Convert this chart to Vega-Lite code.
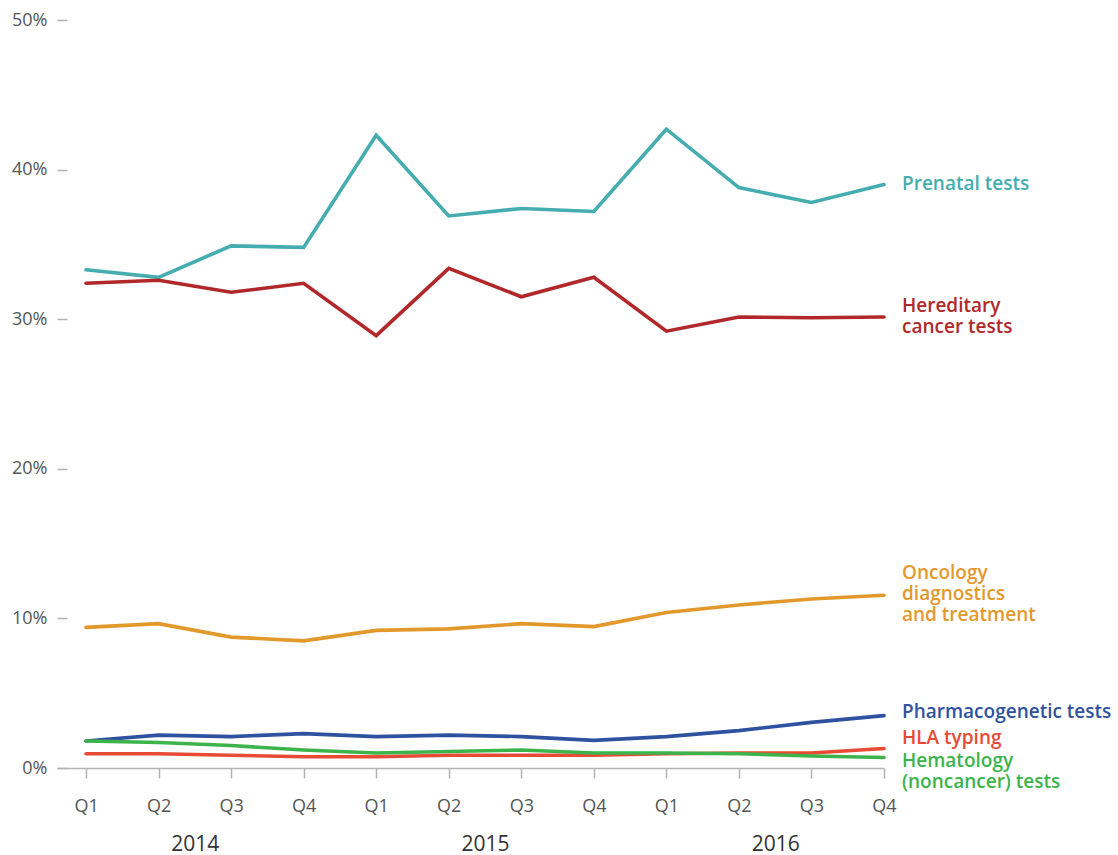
{
  "$schema": "https://vega.github.io/schema/vega-lite/v6.json",
  "width": 827,
  "height": 748,
  "autosize": {"type": "none"},
  "padding": {"left": 57, "top": 20, "right": 234, "bottom": 87},
  "background": "white",
  "config": {"view": {"stroke": null}, "font": "Open Sans"},
  "datasets": {
    "shares": [
      {"series": "Prenatal", "t": 0, "value": 33.3}, {"series": "Prenatal", "t": 1, "value": 32.8}, {"series": "Prenatal", "t": 2, "value": 34.9}, {"series": "Prenatal", "t": 3, "value": 34.8},
      {"series": "Prenatal", "t": 4, "value": 42.3}, {"series": "Prenatal", "t": 5, "value": 36.9}, {"series": "Prenatal", "t": 6, "value": 37.4}, {"series": "Prenatal", "t": 7, "value": 37.2},
      {"series": "Prenatal", "t": 8, "value": 42.7}, {"series": "Prenatal", "t": 9, "value": 38.8}, {"series": "Prenatal", "t": 10, "value": 37.8}, {"series": "Prenatal", "t": 11, "value": 39.0},
      {"series": "Hereditary", "t": 0, "value": 32.4}, {"series": "Hereditary", "t": 1, "value": 32.6}, {"series": "Hereditary", "t": 2, "value": 31.8}, {"series": "Hereditary", "t": 3, "value": 32.4},
      {"series": "Hereditary", "t": 4, "value": 28.9}, {"series": "Hereditary", "t": 5, "value": 33.4}, {"series": "Hereditary", "t": 6, "value": 31.5}, {"series": "Hereditary", "t": 7, "value": 32.8},
      {"series": "Hereditary", "t": 8, "value": 29.2}, {"series": "Hereditary", "t": 9, "value": 30.15}, {"series": "Hereditary", "t": 10, "value": 30.1}, {"series": "Hereditary", "t": 11, "value": 30.15},
      {"series": "Oncology", "t": 0, "value": 9.4}, {"series": "Oncology", "t": 1, "value": 9.65}, {"series": "Oncology", "t": 2, "value": 8.75}, {"series": "Oncology", "t": 3, "value": 8.5},
      {"series": "Oncology", "t": 4, "value": 9.2}, {"series": "Oncology", "t": 5, "value": 9.3}, {"series": "Oncology", "t": 6, "value": 9.65}, {"series": "Oncology", "t": 7, "value": 9.45},
      {"series": "Oncology", "t": 8, "value": 10.4}, {"series": "Oncology", "t": 9, "value": 10.9}, {"series": "Oncology", "t": 10, "value": 11.3}, {"series": "Oncology", "t": 11, "value": 11.55},
      {"series": "Pharmacogenetic", "t": 0, "value": 1.8}, {"series": "Pharmacogenetic", "t": 1, "value": 2.2}, {"series": "Pharmacogenetic", "t": 2, "value": 2.1}, {"series": "Pharmacogenetic", "t": 3, "value": 2.3},
      {"series": "Pharmacogenetic", "t": 4, "value": 2.1}, {"series": "Pharmacogenetic", "t": 5, "value": 2.2}, {"series": "Pharmacogenetic", "t": 6, "value": 2.1}, {"series": "Pharmacogenetic", "t": 7, "value": 1.85},
      {"series": "Pharmacogenetic", "t": 8, "value": 2.1}, {"series": "Pharmacogenetic", "t": 9, "value": 2.5}, {"series": "Pharmacogenetic", "t": 10, "value": 3.05}, {"series": "Pharmacogenetic", "t": 11, "value": 3.5},
      {"series": "HLA", "t": 0, "value": 0.95}, {"series": "HLA", "t": 1, "value": 0.95}, {"series": "HLA", "t": 2, "value": 0.85}, {"series": "HLA", "t": 3, "value": 0.75},
      {"series": "HLA", "t": 4, "value": 0.75}, {"series": "HLA", "t": 5, "value": 0.85}, {"series": "HLA", "t": 6, "value": 0.85}, {"series": "HLA", "t": 7, "value": 0.85},
      {"series": "HLA", "t": 8, "value": 0.95}, {"series": "HLA", "t": 9, "value": 1.0}, {"series": "HLA", "t": 10, "value": 1.0}, {"series": "HLA", "t": 11, "value": 1.3},
      {"series": "Hematology", "t": 0, "value": 1.8}, {"series": "Hematology", "t": 1, "value": 1.7}, {"series": "Hematology", "t": 2, "value": 1.5}, {"series": "Hematology", "t": 3, "value": 1.2},
      {"series": "Hematology", "t": 4, "value": 1.0}, {"series": "Hematology", "t": 5, "value": 1.1}, {"series": "Hematology", "t": 6, "value": 1.2}, {"series": "Hematology", "t": 7, "value": 1.0},
      {"series": "Hematology", "t": 8, "value": 1.0}, {"series": "Hematology", "t": 9, "value": 0.95}, {"series": "Hematology", "t": 10, "value": 0.8}, {"series": "Hematology", "t": 11, "value": 0.7}
    ],
    "labels": [
      {"series": "Prenatal", "label": "Prenatal tests"},
      {"series": "Hereditary", "label": "Hereditary\ncancer tests"},
      {"series": "Oncology", "label": "Oncology\ndiagnostics\nand treatment"},
      {"series": "Pharmacogenetic", "label": "Pharmacogenetic tests"},
      {"series": "HLA", "label": "HLA typing"},
      {"series": "Hematology", "label": "Hematology\n(noncancer) tests"}
    ]
  },
  "data": {"name": "shares"},
  "encoding": {
    "y": {
      "field": "value", "type": "quantitative",
      "scale": {"domain": [0, 50], "nice": false},
      "axis": {
        "title": null, "values": [0, 10, 20, 30, 40, 50], "labelExpr": "datum.value + '%'",
        "domain": false, "grid": false, "offset": -10, "tickSize": 10, "tickColor": "#b3b3b3", "tickWidth": 1.5,
        "labelPadding": 10, "labelFontSize": 18, "labelColor": "#555555", "labelOverlap": false, "labelFlush": false
      }
    },
    "color": {
      "field": "series", "type": "nominal", "legend": null,
      "scale": {
        "domain": ["Prenatal", "Hereditary", "Oncology", "Pharmacogenetic", "HLA", "Hematology"],
        "range": ["#45adb0", "#b0282a", "#e3982b", "#2f52a0", "#e84a36", "#3cb44b"]
      }
    }
  },
  "layer": [
    {
      "mark": {"type": "line", "strokeWidth": 3.6, "strokeJoin": "miter", "strokeCap": "round"},
      "encoding": {
        "x": {
          "field": "t", "type": "quantitative",
          "scale": {"domain": [-0.4, 11], "nice": false, "zero": false},
          "axis": {
            "title": null, "orient": "bottom", "values": [0, 1, 2, 3, 4, 5, 6, 7, 8, 9, 10, 11],
            "labelExpr": "['Q1','Q2','Q3','Q4'][datum.value % 4]",
            "grid": false, "domainColor": "#b3b3b3", "domainWidth": 1.5, "tickColor": "#b3b3b3", "tickWidth": 1.5, "tickSize": 10,
            "labelPadding": 19, "labelFontSize": 18, "labelColor": "#555555", "labelFlush": false, "labelOverlap": false
          }
        }
      }
    },
    {
      "transform": [
        {"filter": "datum.t == 11 && datum.series == 'Prenatal'"},
        {"lookup": "series", "from": {"data": {"name": "labels"}, "key": "series", "fields": ["label"]}}
      ],
      "mark": {"type": "text", "align": "left", "baseline": "middle", "dx": 18, "dy": -1, "fontSize": 19, "fontWeight": 600, "lineBreak": "\n", "lineHeight": 21},
      "encoding": {
        "x": {
          "field": "t", "type": "quantitative",
          "axis": {
            "title": null, "orient": "bottom", "values": [1.5, 5.5, 9.5],
            "labelExpr": "datum.value < 3 ? '2014' : datum.value < 7 ? '2015' : '2016'",
            "grid": false, "domain": false, "ticks": false, "labelPadding": 76, "labelBaseline": "middle",
            "labelFontSize": 21, "labelColor": "#333333", "labelFontWeight": "normal", "labelFlush": false, "labelOverlap": false
          }
        },
        "text": {"field": "label", "type": "nominal"}
      }
    },
    {
      "transform": [
        {"filter": "datum.t == 11 && (datum.series == 'Hereditary' || datum.series == 'HLA')"},
        {"lookup": "series", "from": {"data": {"name": "labels"}, "key": "series", "fields": ["label"]}}
      ],
      "mark": {"type": "text", "align": "left", "baseline": "middle", "dx": 18, "dy": -11, "fontSize": 19, "fontWeight": 600, "lineBreak": "\n", "lineHeight": 21},
      "encoding": {
        "x": {"field": "t", "type": "quantitative", "axis": null},
        "text": {"field": "label", "type": "nominal"}
      }
    },
    {
      "transform": [
        {"filter": "datum.t == 11 && datum.series == 'Oncology'"},
        {"lookup": "series", "from": {"data": {"name": "labels"}, "key": "series", "fields": ["label"]}}
      ],
      "mark": {"type": "text", "align": "left", "baseline": "middle", "dx": 18, "dy": -22, "fontSize": 19, "fontWeight": 600, "lineBreak": "\n", "lineHeight": 21},
      "encoding": {
        "x": {"field": "t", "type": "quantitative", "axis": null},
        "text": {"field": "label", "type": "nominal"}
      }
    },
    {
      "transform": [
        {"filter": "datum.t == 11 && datum.series == 'Pharmacogenetic'"},
        {"lookup": "series", "from": {"data": {"name": "labels"}, "key": "series", "fields": ["label"]}}
      ],
      "mark": {"type": "text", "align": "left", "baseline": "middle", "dx": 18, "dy": -4, "fontSize": 19, "fontWeight": 600, "lineBreak": "\n", "lineHeight": 21},
      "encoding": {
        "x": {"field": "t", "type": "quantitative", "axis": null},
        "text": {"field": "label", "type": "nominal"}
      }
    },
    {
      "transform": [
        {"filter": "datum.t == 11 && datum.series == 'Hematology'"},
        {"lookup": "series", "from": {"data": {"name": "labels"}, "key": "series", "fields": ["label"]}}
      ],
      "mark": {"type": "text", "align": "left", "baseline": "middle", "dx": 18, "dy": 3, "fontSize": 19, "fontWeight": 600, "lineBreak": "\n", "lineHeight": 21},
      "encoding": {
        "x": {"field": "t", "type": "quantitative", "axis": null},
        "text": {"field": "label", "type": "nominal"}
      }
    }
  ],
  "resolve": {"axis": {"x": "independent"}}
}
